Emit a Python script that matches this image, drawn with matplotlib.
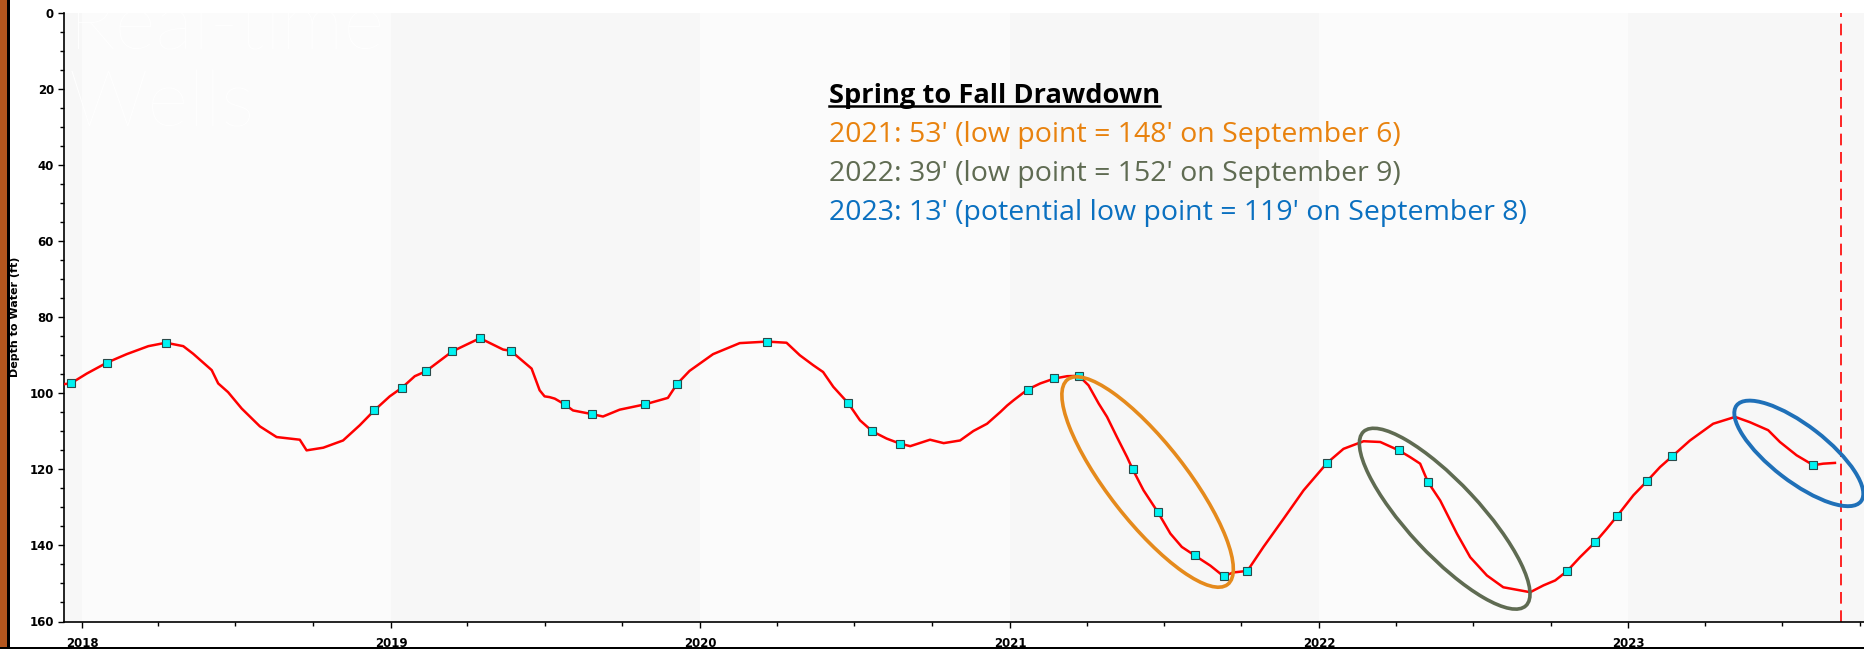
import numpy as np
import pandas as pd
import matplotlib
matplotlib.use("Agg")
import matplotlib.pyplot as plt
import matplotlib.dates as mdates
import matplotlib.transforms as mtransforms
from matplotlib.patches import Ellipse, Rectangle
from matplotlib.lines import Line2D

# ---------------- data (decimal years, depth in ft) ----------------
line_years = [2017.939, 2017.963, 2018.015, 2018.081, 2018.144, 2018.214, 2018.271, 2018.327,
              2018.359, 2018.419, 2018.440, 2018.472, 2018.516, 2018.575, 2018.629, 2018.704,
              2018.726, 2018.780, 2018.844, 2018.898, 2018.945, 2018.995, 2019.035, 2019.076,
              2019.112, 2019.197, 2019.287, 2019.362, 2019.386, 2019.454, 2019.480, 2019.496,
              2019.512, 2019.529, 2019.561, 2019.588, 2019.651, 2019.685, 2019.739, 2019.821,
              2019.895, 2019.924, 2019.965, 2020.041, 2020.127, 2020.215, 2020.278, 2020.321,
              2020.364, 2020.396, 2020.429, 2020.477, 2020.515, 2020.555, 2020.601, 2020.643,
              2020.677, 2020.741, 2020.785, 2020.838, 2020.881, 2020.925, 2020.968, 2020.990,
              2021.011, 2021.056, 2021.097, 2021.143, 2021.184, 2021.222, 2021.253, 2021.286,
              2021.313, 2021.345, 2021.378, 2021.396, 2021.431, 2021.477, 2021.518, 2021.555,
              2021.596, 2021.647, 2021.690, 2021.722, 2021.767, 2021.819, 2021.884, 2021.949,
              2022.025, 2022.078, 2022.143, 2022.197, 2022.257, 2022.294, 2022.326, 2022.351,
              2022.391, 2022.445, 2022.488, 2022.542, 2022.595, 2022.682, 2022.725, 2022.763,
              2022.802, 2022.843, 2022.893, 2022.930, 2022.963, 2023.016, 2023.060, 2023.102,
              2023.141, 2023.199, 2023.274, 2023.345, 2023.393, 2023.452, 2023.490, 2023.544,
              2023.598, 2023.630, 2023.668]
line_depth = [97.6, 97.4, 94.8, 91.9, 89.7, 87.6, 86.7, 87.6,
              89.6, 93.9, 97.4, 99.7, 104.0, 108.7, 111.5, 112.2,
              115.0, 114.3, 112.4, 108.4, 104.5, 100.8, 98.5, 95.5,
              94.2, 89.0, 85.5, 88.5, 88.8, 93.5, 99.2, 100.8,
              101.0, 101.4, 102.9, 104.5, 105.5, 106.1, 104.3, 102.9,
              101.2, 97.6, 94.1, 89.7, 86.8, 86.4, 86.7, 90.0,
              92.6, 94.4, 98.3, 102.6, 107.1, 110.0, 111.9, 113.2,
              113.9, 112.2, 113.1, 112.4, 109.9, 108.0, 104.9, 103.2,
              101.8, 99.0, 97.4, 96.1, 95.5, 95.4, 97.9, 102.7,
              106.2, 111.5, 116.8, 120.0, 125.5, 131.2, 136.9, 140.4,
              142.6, 145.3, 148.1, 147.1, 146.7, 140.4, 133.0, 125.5,
              118.3, 114.6, 112.6, 112.8, 115.0, 116.8, 118.5, 123.3,
              128.2, 136.9, 143.1, 147.9, 151.0, 152.3, 150.5, 149.2,
              146.7, 143.1, 139.1, 135.6, 132.3, 126.8, 123.1, 119.4,
              116.6, 112.4, 108.0, 106.2, 107.6, 109.7, 112.8, 116.3,
              118.9, 118.5, 118.3]

meas_years = [2017.963, 2018.081, 2018.271, 2018.945, 2019.035, 2019.112, 2019.197, 2019.287,
              2019.386, 2019.561, 2019.651, 2019.821, 2019.924, 2020.215, 2020.477, 2020.555,
              2020.643, 2021.056, 2021.143, 2021.222, 2021.396, 2021.477, 2021.596, 2021.690,
              2021.767, 2022.025, 2022.257, 2022.351, 2022.802, 2022.893, 2022.963, 2023.060,
              2023.141, 2023.598]
meas_depth = [97.4, 91.9, 86.7, 104.5, 98.5, 94.2, 89.0, 85.5,
              88.8, 102.9, 105.5, 102.9, 97.6, 86.4, 102.6, 110.0,
              113.2, 99.0, 96.1, 95.4, 120.0, 131.2, 142.6, 148.1,
              146.7, 118.3, 115.0, 123.3, 146.7, 139.1, 132.3, 123.1,
              116.6, 118.9]

today_year = 2023.687
years = [2018, 2019, 2020, 2021, 2022, 2023]

title_text = "Spring to Fall Drawdown"
note_lines = ["2021: 53' (low point = 148' on September 6)",
              "2022: 39' (low point = 152' on September 9)",
              "2023: 13' (potential low point = 119' on September 8)"]
note_colors = ["#E8820E", "#5F6B52", "#0A70C0"]
watermark = "Real-time\nWells"


def yr2dt(y):
    yr = int(np.floor(y))
    start = pd.Timestamp(yr, 1, 1)
    end = pd.Timestamp(yr + 1, 1, 1)
    return start + (end - start) * (y - yr)


line_dates = [yr2dt(v) for v in line_years]
meas_dates = [yr2dt(v) for v in meas_years]

# ---------------- figure ----------------
W, H = 1864, 649
DPI = 100
fig = plt.figure(figsize=(W / DPI, H / DPI), dpi=DPI, facecolor="white")

ax_left, ax_right, ax_top, ax_bot = 63.8, 1864.0, 13.0, 621.5
ax = fig.add_axes([ax_left / W, 1 - ax_bot / H, (ax_right - ax_left) / W, (ax_bot - ax_top) / H])
ax.set_facecolor("#FBFBFB")

xmin = yr2dt(2017.9405)
xmax = yr2dt(2023.762)
ax.set_xlim(xmin, xmax)
ax.set_ylim(160, 0)

# alternating year bands
for yr in range(2017, 2024):
    if yr % 2 == 1:
        ax.axvspan(pd.Timestamp(yr, 1, 1), pd.Timestamp(yr + 1, 1, 1), color="#F7F7F7", lw=0, zorder=0)

# watermark
ax.text(yr2dt(2017.956), 126.7 / 3.8 - 13 / 3.8, watermark, color="white", fontsize=57,
        family=["Lato", "DejaVu Sans"], fontweight="light", va="baseline", ha="left",
        linespacing=1.12, clip_on=True, zorder=1)

# main series
ax.plot(line_dates, line_depth, color="#FF0000", lw=1.8, zorder=3, solid_joinstyle="round")
ax.plot(meas_dates, meas_depth, ls="none", marker="s", ms=5.2, mfc="#00F2F2", mec="#2A4A4A",
        mew=0.8, zorder=4)

# today line
ax.axvline(yr2dt(today_year), color="#FF0000", lw=1.2, ls=(0, (7, 4)), zorder=2)

# ticks
ax.xaxis.set_major_locator(mdates.YearLocator())
ax.xaxis.set_major_formatter(mdates.DateFormatter("%Y"))
ax.xaxis.set_minor_locator(mdates.MonthLocator(bymonth=[4, 7, 10]))
ax.set_yticks(np.arange(0, 161, 20))
ax.set_yticks(np.arange(0, 161, 5), minor=True)
ax.tick_params(axis="both", which="major", direction="out", length=4, width=1, color="black",
               labelsize=8.5)
ax.tick_params(axis="both", which="minor", direction="out", length=3, width=1, color="black")
for lab in ax.get_xticklabels() + ax.get_yticklabels():
    lab.set_fontweight("bold")
    lab.set_family("DejaVu Sans")
ax.tick_params(axis="y", pad=3)
ax.tick_params(axis="x", pad=7)
ax.set_ylabel("Depth to Water (ft)", fontsize=8, fontweight="bold", family="DejaVu Sans", labelpad=7)
for s in ["top", "right"]:
    ax.spines[s].set_visible(False)
for s in ["left", "bottom"]:
    ax.spines[s].set_linewidth(1.2)
    ax.spines[s].set_color("black")


# ellipses (sized in pixels)
def px_ellipse(cx_px, cy_px, a, b, angle_deg, color, lw):
    e = Ellipse((cx_px, H - cy_px), 2 * a, 2 * b, angle=angle_deg, fill=False,
                edgecolor=color, lw=lw, transform=mtransforms.IdentityTransform(), zorder=5)
    e.set_clip_on(False)
    fig.add_artist(e)


px_ellipse(1147.6, 482.0, 130, 39, -52, "#E58A1C", 2.6)
px_ellipse(1444.7, 518.7, 119, 36, -47, "#5F6B52", 2.6)
px_ellipse(1798.8, 453.4, 78.5, 28, -37.6, "#1F70B8", 2.8)

# text block
FONT = ["Open Sans", "DejaVu Sans"]
tx = 829 / W
t_title = fig.text(tx, 1 - 103 / H, title_text, fontsize=20, fontweight="bold", family=FONT,
                   color="black", va="baseline", ha="left")
note_baselines = [142, 181, 220]
t_notes = []
for s, c, yb in zip(note_lines, note_colors, note_baselines):
    t_notes.append(fig.text(tx, 1 - yb / H, s, fontsize=20, family=FONT, color=c,
                            va="baseline", ha="left"))

fig.canvas.draw()
r = fig.canvas.get_renderer()
w_long = t_notes[2].get_window_extent(r).width
fs = 20 * 697 / w_long
for t in t_notes:
    t.set_fontsize(fs)
w_t = t_title.get_window_extent(r).width
t_title.set_fontsize(20 * 330 / w_t)
fig.canvas.draw()
bb = t_title.get_window_extent(r)
yb_px = H - 103
uy = (yb_px - 0.12 * t_title.get_fontsize() * DPI / 72) / H
fig.add_artist(Line2D([bb.x0 / W, bb.x1 / W], [uy, uy], color="black", lw=1.8,
                      transform=fig.transFigure))

# frame decorations (left stripe, bottom rule)
fig.add_artist(Rectangle((0, 0), 7 / W, 1, transform=fig.transFigure, color="#B4561E", lw=0))
fig.add_artist(Rectangle((7 / W, 0), 3 / W, 1, transform=fig.transFigure, color="black", lw=0))
fig.add_artist(Rectangle((0, 0), 1, 2.5 / H, transform=fig.transFigure, color="black", lw=0))

fig.savefig("out.png", dpi=DPI, facecolor="white")
